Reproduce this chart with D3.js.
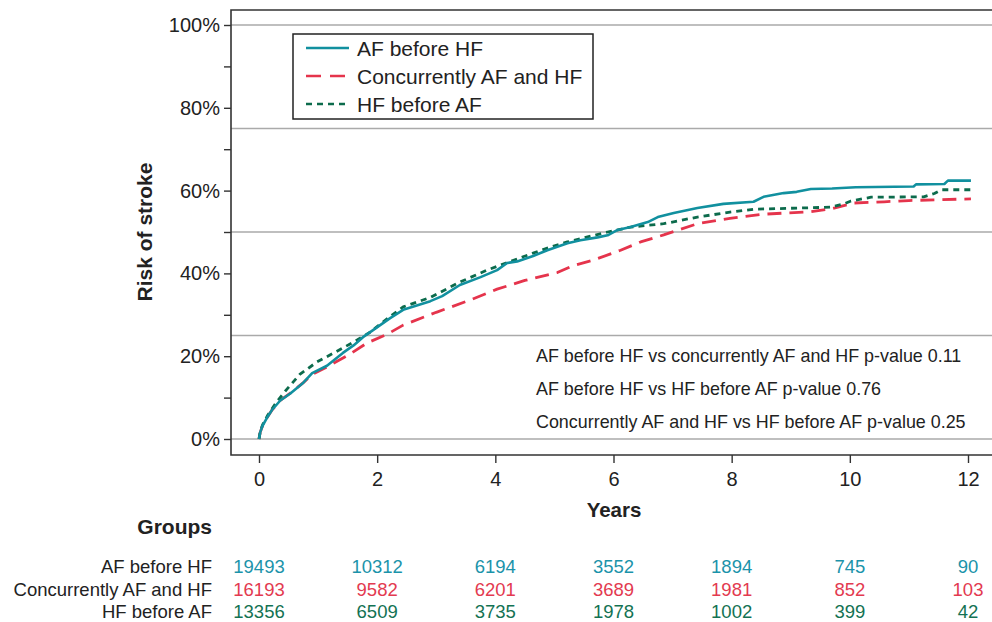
<!DOCTYPE html>
<html>
<head>
<meta charset="utf-8">
<script src="https://cdn.jsdelivr.net/npm/d3@7"></script>
<style>
  html, body { margin: 0; padding: 0; background: #fff; }
  svg { display: block; font-family: "Liberation Sans", Arial, sans-serif; }
</style>
</head>
<body>
<svg id="chart" width="992" height="622"></svg>
<script>
// ---- Data ----
const seriesNames = ["AF before HF", "Concurrently AF and HF", "HF before AF"];
const afBeforeHF = [[0,0],[0.02,1.6],[0.06,3.2],[0.13,5.0],[0.22,7.0],[0.36,9.3],[0.53,11.0],[0.75,13.6],[0.9,15.9],[1.15,17.7],[1.42,20.8],[1.6,22.6],[1.76,24.6],[1.93,26.3],[2.22,29.2],[2.44,31.2],[2.9,33.3],[3.1,34.5],[3.4,37.2],[3.75,39.1],[4.03,40.8],[4.2,42.5],[4.37,42.9],[4.64,44.2],[4.88,45.6],[5.22,47.3],[5.44,48],[5.73,48.7],[5.9,49.2],[6.07,50.5],[6.29,51.2],[6.58,52.4],[6.75,53.6],[7.02,54.6],[7.42,55.8],[7.86,56.8],[8.37,57.3],[8.54,58.5],[8.88,59.4],[9.1,59.7],[9.34,60.4],[9.7,60.5],[10.1,60.8],[11.08,61.0],[11.12,61.5],[11.6,61.6],[11.66,62.4],[12.05,62.4]];
const concurrent = [[0,0],[0.02,1.6],[0.06,3.2],[0.13,5.0],[0.22,7.0],[0.36,9.3],[0.53,11.1],[0.75,13.6],[0.9,15.6],[1.15,17.4],[1.54,20.5],[1.83,23.2],[2.17,25.3],[2.44,27.5],[3.0,30.6],[3.58,33.6],[4.03,36.2],[4.5,38.3],[5.05,40.2],[5.3,41.8],[5.66,43.2],[6.12,45.6],[6.46,47.6],[6.85,49.3],[7.42,52.0],[7.97,53.3],[8.54,54.3],[9.34,54.9],[9.68,55.6],[10.07,57.0],[10.58,57.3],[11.0,57.6],[12.05,58.0]];
const hfBeforeAF = [[0,0],[0.02,1.7],[0.06,3.4],[0.15,5.8],[0.3,9.0],[0.47,12.0],[0.69,15.6],[0.98,18.6],[1.32,21.2],[1.66,23.9],[1.88,25.8],[2.22,29.6],[2.44,31.9],[2.9,34.2],[3.4,37.9],[3.86,40.8],[4.2,42.6],[4.64,44.9],[4.88,46.1],[5.22,47.6],[5.9,50],[6.29,51.2],[6.85,52],[7.42,53.6],[7.97,54.8],[8.37,55.5],[9.17,55.8],[9.68,56],[9.9,56.8],[10.02,57.5],[10.36,58.4],[11.25,58.5],[11.43,59.3],[11.55,60.2],[12.05,60.2]];
const xTicks = [0, 2, 4, 6, 8, 10, 12];
const yTicksMajor = [0, 20, 40, 60, 80, 100];
const yTicksMinor = [0, 10, 20, 30, 40, 50, 60, 70, 80, 90, 100];
const yGrid = [0, 25, 50, 75, 100];
const atRisk = [
  [19493, 10312, 6194, 3552, 1894, 745, 90],
  [16193, 9582, 6201, 3689, 1981, 852, 103],
  [13356, 6509, 3735, 1978, 1002, 399, 42]
];
const pValueTexts = [
  "AF before HF vs concurrently AF and HF p-value 0.11",
  "AF before HF vs HF before AF p-value 0.76",
  "Concurrently AF and HF vs HF before AF p-value 0.25"
];

// ---- Styles ----
const lineColors = ["#11909f", "#e5344c", "#0c6b4c"];
const numColors = ["#1b93aa", "#e33a50", "#137253"];
const dashes = [null, "14,8", "6,5"];
const textColor = "#222";

const svg = d3.select("#chart");
const x = d3.scaleLinear().domain([0, 12]).range([259, 968]);
const y = d3.scaleLinear().domain([0, 100]).range([439, 25]);
const frameL = 231, frameT = 10, frameB = 455, frameR = 995;

// grid
svg.append("g").selectAll("line").data(yGrid).join("line")
  .attr("x1", frameL).attr("x2", frameR)
  .attr("y1", d => y(d)).attr("y2", d => y(d))
  .attr("stroke", "#aaaaaa").attr("stroke-width", 1.3);

// frame
svg.append("path")
  .attr("d", `M${frameR},${frameT}H${frameL}V${frameB}H${frameR}`)
  .attr("fill", "none").attr("stroke", "#333").attr("stroke-width", 1.6);

// y axis
const yAxis = d3.axisLeft(y).tickValues(yTicksMinor).tickSize(7)
  .tickFormat(d => yTicksMajor.includes(d) ? d + "%" : "");
const gy = svg.append("g").attr("transform", `translate(${frameL},0)`).call(yAxis);
gy.select(".domain").remove();
gy.selectAll(".tick line").attr("stroke", "#333").attr("stroke-width", 1.4);
gy.selectAll(".tick text").attr("font-size", 20).attr("fill", textColor)
  .attr("font-family", "Liberation Sans, Arial, sans-serif").attr("x", -11);

// x axis
const xAxis = d3.axisBottom(x).tickValues(xTicks).tickSize(8).tickFormat(d3.format("d"));
const gx = svg.append("g").attr("transform", `translate(0,${frameB})`).call(xAxis);
gx.select(".domain").remove();
gx.selectAll(".tick line").attr("stroke", "#333").attr("stroke-width", 1.4);
gx.selectAll(".tick text").attr("font-size", 20).attr("fill", textColor)
  .attr("font-family", "Liberation Sans, Arial, sans-serif").attr("y", 17);

// axis titles
svg.append("text").attr("x", 614).attr("y", 517).attr("text-anchor", "middle")
  .attr("font-size", 20.5).attr("font-weight", "bold").attr("fill", textColor).text("Years");
svg.append("text").attr("transform", "translate(152,232) rotate(-90)").attr("text-anchor", "middle")
  .attr("font-size", 21).attr("font-weight", "bold").attr("fill", textColor).text("Risk of stroke");

// curves
const line = d3.line().x(d => x(d[0])).y(d => y(d[1]));
const allSeries = [afBeforeHF, concurrent, hfBeforeAF];
const drawOrder = [1, 2, 0];
drawOrder.forEach(i => {
  svg.append("path").datum(allSeries[i]).attr("d", line)
    .attr("fill", "none").attr("stroke", lineColors[i])
    .attr("stroke-width", i === 0 ? 2.6 : 2.8)
    .attr("stroke-dasharray", dashes[i])
    .attr("stroke-linejoin", "round");
});

// legend
const lg = svg.append("g");
lg.append("rect").attr("x", 293).attr("y", 34).attr("width", 300).attr("height", 85)
  .attr("fill", "#fff").attr("stroke", "#222").attr("stroke-width", 1.5);
seriesNames.forEach((name, i) => {
  const cy = 48 + i * 28;
  lg.append("line").attr("x1", 306).attr("x2", 349).attr("y1", cy).attr("y2", cy)
    .attr("stroke", lineColors[i]).attr("stroke-width", 2.6)
    .attr("stroke-dasharray", i === 1 ? "15,9" : dashes[i]);
  lg.append("text").attr("x", 357).attr("y", cy + 7.5).attr("font-size", 21)
    .attr("fill", textColor).text(name);
});

// p-values
pValueTexts.forEach((t, i) => {
  svg.append("text").attr("x", 536).attr("y", 362 + i * 33).attr("font-size", 17.9)
    .attr("fill", textColor).text(t);
});

// risk table
svg.append("text").attr("x", 212).attr("y", 534).attr("text-anchor", "end")
  .attr("font-size", 21).attr("font-weight", "bold").attr("fill", textColor).text("Groups");
seriesNames.forEach((name, i) => {
  const by = 573 + i * 22.5;
  svg.append("text").attr("x", 212).attr("y", by).attr("text-anchor", "end")
    .attr("font-size", 18.5).attr("fill", textColor).text(name);
  svg.append("g").selectAll("text").data(atRisk[i]).join("text")
    .attr("x", (d, j) => x(xTicks[j])).attr("y", by).attr("text-anchor", "middle")
    .attr("font-size", 18.5).attr("fill", numColors[i]).text(d => d);
});
</script>
</body>
</html>
